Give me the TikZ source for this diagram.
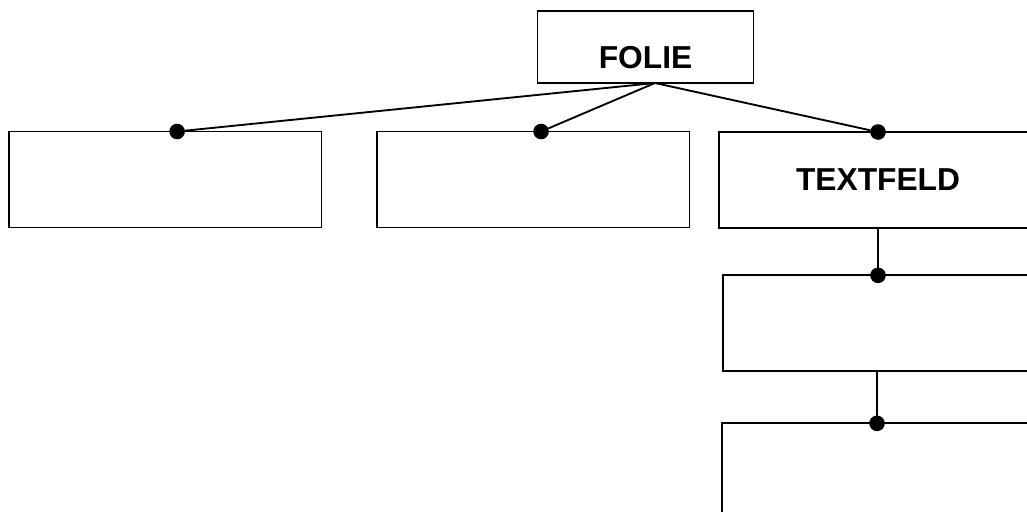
\documentclass[tikz,border=0pt]{standalone}
\usepackage{fontspec}
\setmainfont{Liberation Sans}
\usetikzlibrary{calc}
\definecolor{c000000}{RGB}{0,0,0}

\begin{document}
\begin{tikzpicture}[y=0.75pt, x=0.75pt, yscale=-1, inner sep=0pt, outer sep=0pt,
  box/.style={draw=c000000, line width=1.4pt, minimum width=234.4pt,
    minimum height=72pt, font=\fontsize{23.8}{28}\selectfont\bfseries},
  joint/.style={circle, fill=c000000, minimum size=11.7pt},
  conn/.style={draw=c000000, line width=1.4pt}]
  \useasboundingbox (0,0) rectangle (1027,511);
  \clip (0,0) rectangle (1027,511);
  % Kasten oben
  \node[box, minimum width=162pt, minimum height=0pt, text height=43pt,
    text depth=11pt, anchor=base] (rect-folie) at (645.5,68.3) {FOLIE};
  % erste Reihe
  \node[box] (rect-leer1) at (165.25,179.5) {};
  \node[box] (rect-leer2) at (533.25,179.5) {};
  \node[box, minimum width=238.5pt] (rect-textfeld) at (878,180) {TEXTFELD};
  % unter TEXTFELD
  \node[box, minimum width=231pt] (rect-leer3) at (877,323.3) {};
  \node[box, minimum width=231pt] (rect-leer4) at (876,471.3) {};
  \coordinate (apex) at (655,83);
  \node[joint] (dot-leer1) at ($(rect-leer1.north west)!0.538!(rect-leer1.north east)$) {};
  \node[joint] (dot-leer2) at ($(rect-leer2.north west)!0.525!(rect-leer2.north east)$) {};
  \node[joint] (dot-textfeld) at (rect-textfeld.north) {};
  \node[joint] (dot-leer3) at (rect-textfeld.south |- rect-leer3.north) {};
  \node[joint] (dot-leer4) at (rect-leer3.south |- rect-leer4.north) {};
  \path[conn] (apex) -- (dot-leer1);
  \path[conn] (apex) -- (dot-leer2);
  \path[conn] (apex) -- (dot-textfeld);
  \path[conn] (rect-textfeld.south) -- (dot-leer3);
  \path[conn] (rect-leer3.south) -- (dot-leer4);
\end{tikzpicture}
\end{document}
